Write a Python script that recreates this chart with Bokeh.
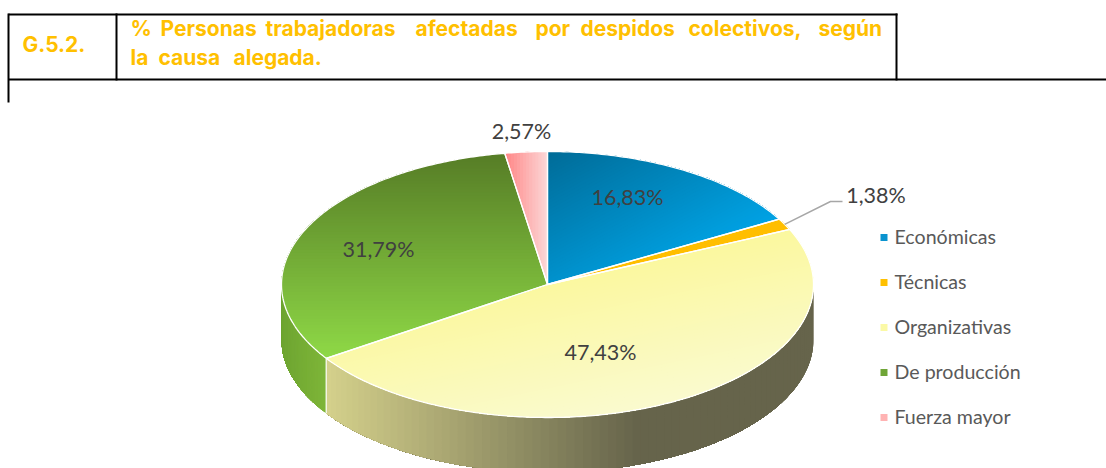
import math
from bokeh.plotting import figure
from bokeh.models import Range1d
from bokeh.core.properties import value
from bokeh.embed import file_html
from bokeh.resources import INLINE

categories = ["Económicas", "Técnicas", "Organizativas", "De producción", "Fuerza mayor"]
shares = [16.83, 1.38, 47.43, 31.79, 2.57]
share_labels = ["16,83%", "1,38%", "47,43%", "31,79%", "2,57%"]
title_words = ["%", "Personas", "trabajadoras", "afectadas", "por", "despidos", "colectivos,", "según"]
title_line2 = ["la", "causa", "alegada."]
title_code = "G.5.2."

CX, CY, RX, RY, DEPTH = 547, 284, 266, 133, 55
W, H = 1106, 468
TITLE = "#FFC000"

# gradient: (start point, end point, start colour, end colour)
GRADS = [
    ((548, 152), (628, 298), (0, 108, 152), (0, 162, 228)),
    ((780, 220), (790, 230), (255, 190, 0), (255, 190, 0)),
    ((547, 284), (575, 418), (251, 248, 160), (250, 250, 205)),
    ((505, 152), (505, 356), (86, 124, 38), (142, 216, 70)),
    ((505, 200), (548, 200), (255, 135, 135), (252, 218, 218)),
]
LEGEND_COL = ["#0A93CF", "#FFC000", "#FBF9A6", "#6FA537", "#FFB3B3"]


def pt(theta):
    return CX + RX * math.sin(theta), CY - RY * math.cos(theta)


def clip(poly, nx, ny, c):
    """Keep the part of poly with nx*x + ny*y >= c."""
    out = []
    for i in range(len(poly)):
        a, b = poly[i], poly[(i + 1) % len(poly)]
        da = nx * a[0] + ny * a[1] - c
        db = nx * b[0] + ny * b[1] - c
        if da >= 0:
            out.append(a)
        if (da >= 0) != (db >= 0):
            t = da / (da - db)
            out.append((a[0] + t * (b[0] - a[0]), a[1] + t * (b[1] - a[1])))
    return out


def mix(c0, c1, t):
    t = max(0, min(1, t))
    return "#%02x%02x%02x" % tuple(round(a + (b - a) * t) for a, b in zip(c0, c1))


total = sum(shares)
edges = [0.0]
for s in shares:
    edges.append(edges[-1] + s / total * 2 * math.pi)

p = figure(width=W, height=H, x_range=Range1d(0, W), y_range=Range1d(H, 0),
           toolbar_location=None, output_backend="svg", min_border=0,
           outline_line_color=None, background_fill_color="white", border_fill_color="white")
p.axis.visible = False
p.grid.visible = False

# side wall: each strip paints from its own start to the end of the wall, so no seams show
rim_x, rim_y, rim_c = [], [], []
RIM_GRADS = {2: ((325, 640), (214, 210, 140), (102, 100, 75)),
             3: ((281, 325), (110, 165, 50), (126, 181, 56))}
for i, (span, c0, c1) in RIM_GRADS.items():
    a = max(edges[i], math.pi / 2)
    b = min(edges[i + 1], 3 * math.pi / 2)
    arc = [pt(a + (b - a) * k / 160) for k in range(161)]
    for k in range(0, 160, 2):
        part = arc[k:]
        rim_x.append([q[0] for q in part] + [q[0] for q in reversed(part)])
        rim_y.append([q[1] for q in part] + [q[1] + DEPTH for q in reversed(part)])
        rim_c.append(mix(c0, c1, (arc[k][0] - span[0]) / (span[1] - span[0])))
p.patches(rim_x, rim_y, fill_color=rim_c, line_color=None)

x_seam, y_seam = pt(edges[3])
p.segment([x_seam], [y_seam], [x_seam], [y_seam + DEPTH], line_color="white", line_width=1.2)

# top face: bands painted over each other
top_x, top_y, top_c, out_x, out_y = [], [], [], [], []
for i in range(len(shares)):
    n = max(3, int((edges[i + 1] - edges[i]) / 0.012))
    poly = [(CX, CY)] + [pt(edges[i] + (edges[i + 1] - edges[i]) * k / n) for k in range(n + 1)]
    out_x.append([q[0] for q in poly])
    out_y.append([q[1] for q in poly])
    (sx, sy), (ex, ey), c0, c1 = GRADS[i]
    dx, dy = ex - sx, ey - sy
    L = math.hypot(dx, dy)
    dx, dy = dx / L, dy / L
    vals = [dx * q[0] + dy * q[1] for q in poly]
    lo, hi = min(vals), max(vals)
    base = dx * sx + dy * sy
    bands = max(2, int((hi - lo) / 3))
    for b in range(bands):
        v0 = lo + (hi - lo) * b / bands
        v1 = lo + (hi - lo) * (b + 1) / bands
        part = clip(poly, dx, dy, v0)
        if len(part) >= 3:
            top_x.append([q[0] for q in part])
            top_y.append([q[1] for q in part])
            top_c.append(mix(c0, c1, ((v0 + v1) / 2 - base) / L))
p.patches(top_x, top_y, fill_color=top_c, line_color=None)
p.patches(out_x, out_y, fill_color=None, line_color="white", line_width=1.3)

# leader line of the small slice
ax, ay = pt((edges[1] + edges[2]) / 2)
p.line([ax, 830, 842], [ay, 201, 201], line_color="#A6A6A6", line_width=1.4)

# slice labels
lab_x = [627, 875.5, 600, 378, 521]
lab_y = [196, 194, 351, 248, 130]
p.text(lab_x, lab_y, text=share_labels, text_font=value("Lato"), text_font_size="21.5px",
       text_color="#404040", text_align="center", text_baseline="middle")

# legend
leg_y = [237, 282, 327, 372, 417]
p.scatter([883.5] * 5, leg_y, marker="square", size=7, fill_color=LEGEND_COL, line_color=None)
p.text([894] * 5, [y - 1.5 for y in leg_y], text=categories, text_font=value("Lato"), text_font_size="19.6px",
       text_color="#595959", text_align="left", text_baseline="middle")

# heading table
p.segment([8, 8, 116, 896, 8], [14, 13, 13, 13, 79], [897, 8, 116, 896, W], [14, 102, 80, 80, 79],
          line_color="black", line_width=2)
p.text([22], [44], text=[title_code], text_font=value("Inter"), text_font_size="21px",
       text_font_style="bold", text_color=TITLE, text_baseline="middle")
word_x = [130, 160, 265, 415, 535, 580, 688, 818]
p.text(word_x, [28] * len(word_x), text=title_words, text_font=value("Inter"), text_font_size="21px",
       text_font_style="bold", text_color=TITLE, text_baseline="middle")
p.text([130, 158, 233], [57] * 3, text=title_line2, text_font=value("Inter"), text_font_size="21px",
       text_font_style="bold", text_color=TITLE, text_baseline="middle")

open("out.html", "w").write(file_html(p, INLINE))
